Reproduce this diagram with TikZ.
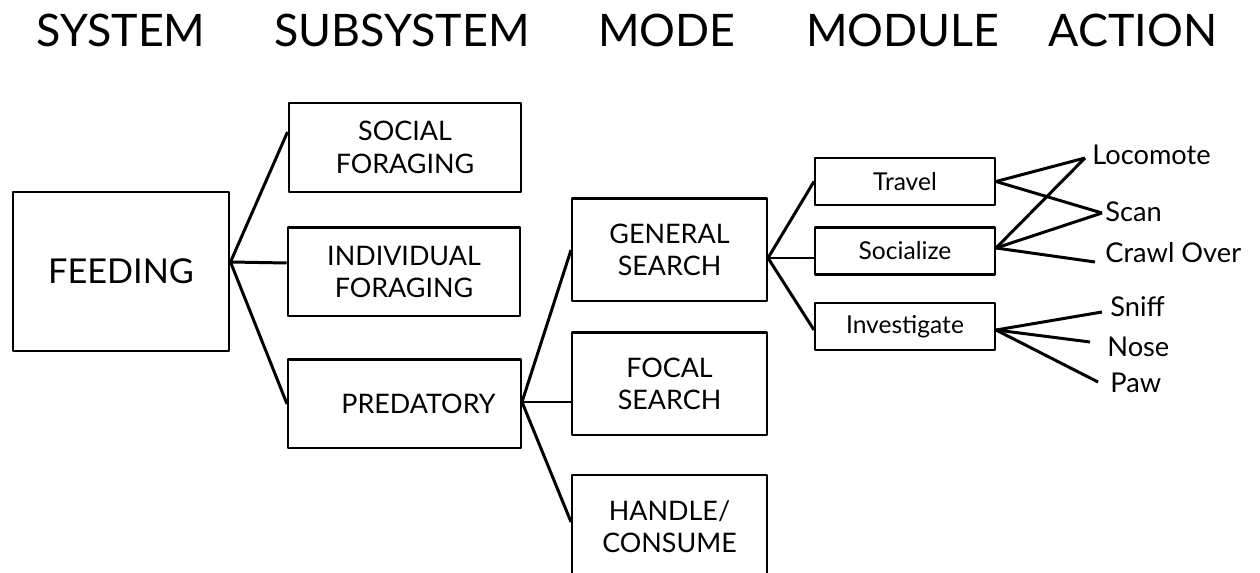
\documentclass[tikz,border=0pt]{standalone}
\usepackage{fontspec}
\setmainfont{Lato}
\usetikzlibrary{positioning}

\begin{document}
\begin{tikzpicture}[x=0.02cm,y=-0.02cm,line join=round,
  box/.style={rectangle,draw,line width=1.15pt,inner sep=0pt,align=center,font=\fontsize{15.3}{18.5}\selectfont},
  subbox/.style={box,minimum width=4.66cm,minimum height=1.78cm},
  modebox/.style={box,minimum width=3.9cm,minimum height=2.06cm},
  modbox/.style={box,minimum width=3.6cm,minimum height=0.94cm,font=\fontsize{14}{17}\selectfont},
  act/.style={anchor=base west,inner sep=0pt,font=\fontsize{15.5}{18}\selectfont},
  head/.style={anchor=base,inner sep=0pt,font=\fontsize{25.5}{30}\selectfont},
  link/.style={line width=1.7pt}]
\useasboundingbox (0,0) rectangle (1260,573);
\clip (0,0) rectangle (1260,573);

\node[head] (hsys)  at (121,47)  {SYSTEM};
\node[head] (hsub)  at (402,47)  {SUBSYSTEM};
\node[head] (hmode) at (667,47)  {MODE};
\node[head] (hmod)  at (903,47)  {MODULE};
\node[head] (hact)  at (1133,47) {ACTION};

\node[box,minimum width=4.34cm,minimum height=3.18cm,font=\fontsize{19.5}{22}\selectfont] (feed) at (121,271.5) {FEEDING};
\node[subbox] (social) at (405,147.5) {SOCIAL\\FORAGING};
\node[subbox] (indiv)  at (404,272)   {INDIVIDUAL\\FORAGING};
\node[subbox] (pred)   at (404.5,404) {\hspace*{0.56cm}PREDATORY};
\node[modebox] (general) at (669.5,250)   {GENERAL\\SEARCH};
\node[modebox] (focal)   at (669.5,384)   {FOCAL\\SEARCH};
\node[modebox] (handle)  at (669.5,526.5) {HANDLE/\\CONSUME};
\node[modbox] (travel)    at (905,181.5) {Travel};
\node[modbox] (socialize) at (905,251)   {Socialize};
\node[modbox] (invest)    at (905,326.5) {Investigate};
\node[act] (loco)  at (1092,165) {Locomote};
\node[act] (scan)  at (1105,222) {Scan};
\node[act] (crawl) at (1105,263) {Crawl Over};
\node[act] (sniff) at (1110,317) {Sniff};
\node[act] (nose)  at (1107,357) {Nose};
\node[act] (paw)   at (1110,393) {Paw};

\foreach \t/\d in {social/-15.5,indiv/-9,pred/0}
  \draw[link] ([shift={(0,-9.5)}]feed.east) -- ([shift={(0,\d)}]\t.west);
\foreach \t/\d in {general/0,focal/18,handle/-4.5}
  \draw[link] ([shift={(0,-2)}]pred.east) -- ([shift={(0,\d)}]\t.west);
\foreach \t/\d in {travel/0,socialize/7,invest/3.5}
  \draw[link] ([shift={(0,8)}]general.east) -- ([shift={(0,\d)}]\t.west);
\draw[link] (travel.east) -- ([shift={(-7,-7)}]loco.base west);
\draw[link] (travel.east) -- ([shift={(-3,-9)}]scan.base west);
\draw[link] ([shift={(0,-3)}]socialize.east) -- ([shift={(-7,-7)}]loco.base west);
\draw[link] ([shift={(0,-3)}]socialize.east) -- ([shift={(-3,-9)}]scan.base west);
\draw[link] ([shift={(0,-3)}]socialize.east) -- ([shift={(-10,-1)}]crawl.base west);
\draw[link] ([shift={(0,3.5)}]invest.east) -- ([shift={(-8,-5)}]sniff.base west);
\draw[link] ([shift={(0,3.5)}]invest.east) -- ([shift={(-17,-15)}]nose.base west);
\draw[link] ([shift={(0,3.5)}]invest.east) -- ([shift={(-12,-11)}]paw.base west);
\end{tikzpicture}
\end{document}
